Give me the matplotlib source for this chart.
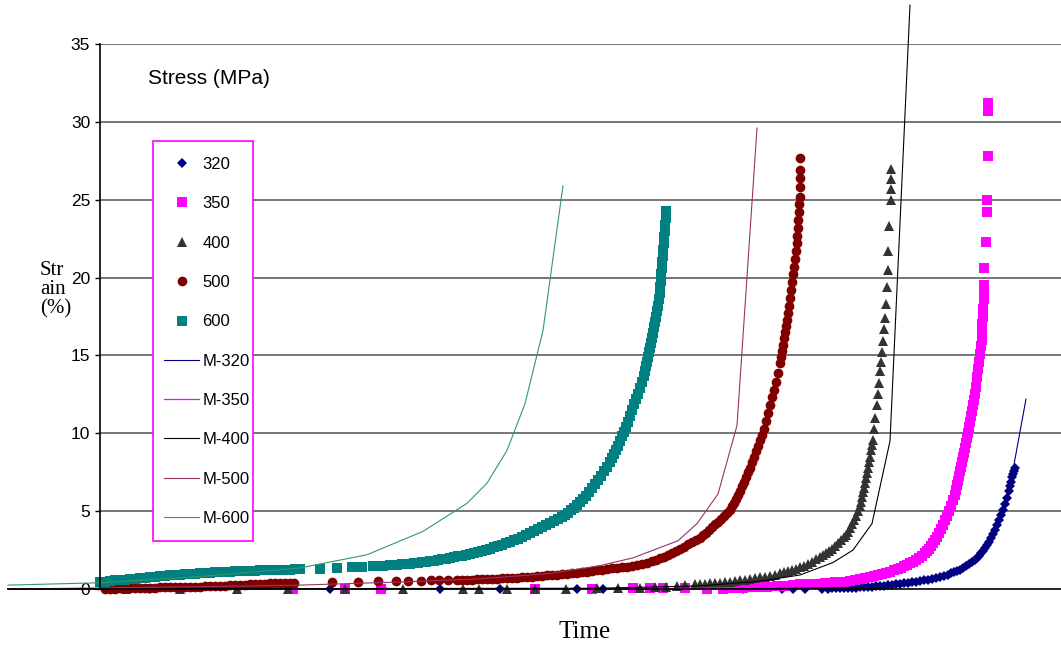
import matplotlib
matplotlib.use("Agg")
import matplotlib.pyplot as plt
from matplotlib.patches import Rectangle

# --- dados (tempo em unidades arbitrárias, deformação em %) ---
t_320 = [49, 230, 283, 340, 400, 477, 503, 643, 682, 693, 705, 722,
         728, 732, 736, 740, 744, 748, 752, 756, 760, 764, 768, 772, 776, 780,
         784, 788, 792, 796, 800, 804, 808, 812, 816, 820, 824, 828, 832, 836,
         840, 844, 848, 851, 854, 857, 860, 863, 866, 869, 872, 875, 877, 879,
         881, 883, 885, 887, 889, 891, 893, 895, 897, 899, 901, 903, 905, 907,
         909, 910, 911, 912, 913, 914, 915]
e_320 = [0, 0, 0, 0, 0, 0, 0, 0, 0, 0, 0, 0,
         0.03, 0.04, 0.05, 0.05, 0.06, 0.07, 0.08, 0.09, 0.1, 0.11, 0.13, 0.15, 0.17, 0.19,
         0.22, 0.24, 0.27, 0.3, 0.33, 0.37, 0.4, 0.44, 0.48, 0.52, 0.56, 0.6, 0.65, 0.7,
         0.77, 0.85, 0.93, 1.0, 1.08, 1.15, 1.23, 1.33, 1.45, 1.58, 1.72, 1.88, 2.0, 2.15,
         2.3, 2.45, 2.65, 2.85, 3.05, 3.3, 3.55, 3.8, 4.1, 4.4, 4.75, 5.1, 5.45, 5.85,
         6.3, 6.6, 6.9, 7.2, 7.4, 7.6, 7.8]

t_350 = [193, 245, 281, 435, 492, 533, 550, 563, 585, 607, 623, 633, 643,
         652, 660, 667, 677, 685, 693, 700,
         705, 710, 715, 720, 725, 730, 735, 740, 745, 750, 755, 760, 765, 770,
         774, 778, 782, 786, 790, 794, 798, 801, 804, 807, 810, 813, 816, 819,
         822, 825, 827, 829, 831, 833, 835, 837, 839, 841, 843, 845, 847, 849,
         851, 853, 855, 856, 857, 858, 859, 860, 861, 862, 863, 864, 865, 866,
         867, 868, 869, 870, 871, 872, 873, 874, 875, 876, 877, 878, 879, 880,
         881, 882, 882, 882, 883, 883, 884, 884, 884, 884, 886, 887, 887, 888,
         888, 888]
e_350 = [0, 0, 0, 0, 0, 0.05, 0.05, 0.05, 0.05, 0, 0, 0.05, 0.05,
         0.1, 0.1, 0.15, 0.2, 0.22, 0.25, 0.3,
         0.31, 0.32, 0.34, 0.35, 0.37, 0.4, 0.42, 0.45, 0.48, 0.52, 0.56, 0.62, 0.68, 0.75,
         0.82, 0.88, 0.95, 1.02, 1.1, 1.2, 1.3, 1.38, 1.47, 1.56, 1.66, 1.76, 1.88, 2.0,
         2.15, 2.3, 2.45, 2.6, 2.75, 2.95, 3.15, 3.35, 3.6, 3.85, 4.1, 4.4, 4.7, 5.0,
         5.35, 5.7, 6.05, 6.35, 6.65, 6.95, 7.25, 7.55, 7.85, 8.15, 8.45, 8.75, 9.05, 9.35,
         9.7, 10.05, 10.4, 10.75, 11.1, 11.45, 11.8, 12.15, 12.5, 13.0, 13.6, 14.1, 14.6, 15.1,
         15.6, 16.0, 16.5, 17.0, 17.5, 18.0, 18.6, 19.1, 19.5, 20.6, 22.3, 24.2, 25.0, 27.8,
         30.7, 31.2]

t_400 = [26, 80, 137, 188, 245, 303, 363, 379, 407, 435, 466, 497, 518,
         540, 555, 566, 577, 585, 595,
         600, 605, 610, 615, 620, 625, 630, 635, 640, 645, 650, 655, 660, 665,
         670, 675, 680, 684, 688, 692, 696, 700, 704, 708, 712, 716, 720, 723,
         726, 729, 732, 735, 738, 741, 744, 746, 748, 750, 752, 754, 756, 758,
         760, 761, 762, 763, 764, 765, 766, 767, 768, 769, 770, 771, 772, 773,
         774, 775, 777, 778, 779, 780, 781, 782, 783, 784, 785, 786, 787, 788,
         788, 789, 791, 791, 791, 791]
e_400 = [0, 0, 0, 0, 0, 0, 0, 0, 0, 0, 0, 0.05, 0.05,
         0.08, 0.1, 0.15, 0.2, 0.25, 0.3,
         0.32, 0.34, 0.36, 0.39, 0.41, 0.44, 0.47, 0.51, 0.55, 0.6, 0.65, 0.7, 0.75, 0.8,
         0.86, 0.93, 1.0, 1.07, 1.14, 1.22, 1.31, 1.4, 1.5, 1.62, 1.75, 1.9, 2.04, 2.16,
         2.3, 2.45, 2.6, 2.75, 2.93, 3.12, 3.33, 3.5, 3.68, 3.9, 4.15, 4.4, 4.7, 5.0,
         5.3, 5.6, 5.9, 6.2, 6.5, 6.8, 7.1, 7.45, 7.8, 8.15, 8.5, 8.9, 9.25, 9.6,
         10.3, 11.0, 11.8, 12.5, 13.2, 14.0, 14.6, 15.2, 15.9, 16.7, 17.4, 18.3, 19.4, 20.5,
         21.7, 23.3, 25.0, 25.7, 26.3, 27.0]

t_500 = [5, 10, 15, 20, 25, 30, 35, 40, 45, 50, 55, 60, 65, 70, 75, 80, 85,
         90, 95, 100, 105, 110, 115, 120, 125, 130, 135, 140, 145, 150, 155,
         160, 165, 170, 175, 180, 185, 190, 194,
         232, 258, 278, 296, 308, 321, 331, 339, 348, 357,
         362, 367, 372, 377, 382, 387, 392, 397, 402, 407, 412, 417, 422, 427,
         432, 437, 442, 447, 452, 457, 462, 467, 472, 477, 482, 487, 492, 497,
         502, 507, 512, 517, 522, 527, 532, 537, 542, 547, 552, 556, 560, 564,
         568, 572, 576, 580, 584, 588, 592, 596, 600, 603, 606, 609, 612, 615,
         618, 621, 624, 627, 630, 632, 634, 636, 638, 640, 642, 644, 646, 648,
         650, 652, 654, 656, 658, 660, 662, 664, 666, 668, 670, 672, 674, 676,
         678, 680, 681, 682, 683, 684, 685, 686, 687, 688, 689, 690, 691, 692,
         693, 694, 695, 696, 697, 697, 698, 698, 699, 699, 699.5, 700, 700, 700, 700]
e_500 = [0.0, 0.02, 0.03, 0.04, 0.05, 0.06, 0.06, 0.07, 0.08, 0.08, 0.09, 0.1, 0.1, 0.11, 0.12, 0.12, 0.13,
         0.14, 0.15, 0.16, 0.17, 0.18, 0.2, 0.21, 0.22, 0.24, 0.25, 0.27, 0.28, 0.3, 0.31,
         0.33, 0.34, 0.36, 0.37, 0.38, 0.39, 0.4, 0.4,
         0.45, 0.45, 0.5, 0.5, 0.52, 0.53, 0.55, 0.55, 0.57, 0.58,
         0.6, 0.6, 0.61, 0.62, 0.63, 0.64, 0.65, 0.66, 0.68, 0.7, 0.71, 0.73, 0.75, 0.77,
         0.79, 0.81, 0.84, 0.87, 0.9, 0.93, 0.96, 0.99, 1.02, 1.05, 1.08, 1.12, 1.16, 1.2,
         1.24, 1.28, 1.32, 1.36, 1.4, 1.44, 1.49, 1.54, 1.6, 1.68, 1.77, 1.86, 1.96, 2.07,
         2.18, 2.3, 2.42, 2.55, 2.7, 2.87, 3.0, 3.15, 3.3, 3.45, 3.6, 3.8, 4.0, 4.15,
         4.3, 4.5, 4.7, 4.85, 5.05, 5.3, 5.55, 5.8, 6.05, 6.3, 6.6, 6.9, 7.2, 7.5,
         7.8, 8.15, 8.5, 8.85, 9.2, 9.55, 9.9, 10.3, 10.8, 11.3, 11.8, 12.3, 12.8, 13.3,
         13.9, 14.5, 14.9, 15.3, 15.7, 16.1, 16.5, 16.9, 17.3, 17.7, 18.2, 18.7, 19.2, 19.7,
         20.2, 20.7, 21.2, 21.7, 22.2, 22.7, 23.2, 23.7, 24.2, 24.7, 25.2, 25.8, 26.4, 26.9, 27.7]

t_600 = [0, 5, 10, 15, 20, 25, 30, 35, 40, 45, 50, 55, 60, 65, 70, 75, 80,
         85, 90, 95, 100, 105, 110, 115, 120, 125, 130, 135, 140, 145, 150,
         155, 160, 165, 170, 175, 180, 185, 190, 195, 200,
         220, 237, 252, 262, 273, 283, 290, 297,
         302, 306, 310, 314, 318, 322, 326, 330, 334, 338, 342, 346, 350, 354,
         358, 362, 366, 370, 374, 378, 382, 386, 390, 394, 398, 402, 406, 410,
         414, 418, 422, 426, 430, 434, 438, 442, 446, 450, 454, 458, 462, 465,
         468, 471, 474, 477, 480, 483, 486, 489, 492, 495, 498, 501, 504, 507,
         510, 512, 514, 516, 518, 520, 522, 524, 526, 528, 530, 532, 534, 536,
         538, 540, 542, 544, 545, 546, 547, 548, 549, 550, 551, 552, 553, 554,
         555, 556, 557, 558, 559, 559.5, 560, 560.5, 561, 561.5, 562, 562.5, 563,
         563.5, 564, 564.5, 565, 565.5, 566]
e_600 = [0.45, 0.48, 0.51, 0.55, 0.58, 0.61, 0.64, 0.67, 0.7, 0.73, 0.76, 0.79, 0.82, 0.84, 0.87, 0.9, 0.92,
         0.94, 0.96, 0.98, 1.0, 1.02, 1.04, 1.06, 1.08, 1.1, 1.11, 1.13, 1.14, 1.16, 1.17,
         1.18, 1.19, 1.2, 1.21, 1.22, 1.23, 1.24, 1.25, 1.26, 1.27,
         1.3, 1.35, 1.4, 1.42, 1.48, 1.5, 1.52, 1.55,
         1.58, 1.6, 1.63, 1.66, 1.7, 1.73, 1.76, 1.8, 1.83, 1.87, 1.91, 1.95, 2.0, 2.05,
         2.1, 2.15, 2.2, 2.26, 2.32, 2.38, 2.45, 2.52, 2.6, 2.67, 2.75, 2.84, 2.93, 3.02,
         3.12, 3.24, 3.36, 3.48, 3.6, 3.73, 3.86, 4.0, 4.12, 4.25, 4.37, 4.5, 4.6, 4.75,
         4.9, 5.05, 5.2, 5.4, 5.6, 5.8, 6.0, 6.25, 6.5, 6.75, 7.0, 7.25, 7.55, 7.85,
         8.15, 8.4, 8.65, 8.9, 9.2, 9.5, 9.8, 10.1, 10.4, 10.75, 11.1, 11.5, 11.85, 12.2,
         12.55, 12.9, 13.3, 13.7, 14.0, 14.3, 14.6, 14.9, 15.2, 15.5, 15.8, 16.1, 16.45, 16.8,
         17.15, 17.5, 17.85, 18.2, 18.6, 19.0, 19.4, 19.8, 20.2, 20.6, 21.0, 21.4, 21.8,
         22.2, 22.6, 23.0, 23.4, 23.8, 24.3]

# curvas do modelo
tm_320 = [-92, 600, 700, 760, 800, 830, 850, 865, 875, 885, 893, 900, 907, 912, 926]
em_320 = [0.0, 0.0, 0.05, 0.12, 0.32, 0.6, 0.95, 1.4, 1.9, 2.7, 3.6, 4.6, 6.0, 7.3, 12.2]
tm_350 = [-92, 550, 650, 700, 750, 780, 800, 820, 835, 845, 855, 863, 870, 876, 881, 886]
em_350 = [0.0, 0.0, 0.1, 0.3, 0.6, 1.0, 1.4, 2.1, 3.2, 4.3, 6.0, 8.0, 10.5, 13.5, 16.5, 19.8]
tm_400 = [-92, 500, 600, 660, 700, 733, 753, 772, 790, 810]
em_400 = [0.0, 0.05, 0.2, 0.5, 0.9, 1.7, 2.5, 4.2, 9.5, 37.5]
tm_500 = [-92, -50, 100, 200, 300, 380, 450, 500, 533, 578, 597, 618, 637, 657]
em_500 = [0.02, 0.03, 0.15, 0.25, 0.45, 0.65, 1.0, 1.5, 2.0, 3.1, 4.2, 6.1, 10.5, 29.6]
tm_600 = [-92, 0, 100, 200, 267, 323, 367, 387, 407, 425, 443, 463]
em_600 = [0.25, 0.4, 0.8, 1.35, 2.2, 3.7, 5.5, 6.8, 8.9, 11.9, 16.6, 25.9]

yticks = [0, 5, 10, 15, 20, 25, 30, 35]


def gerar_grafico():
    fig = plt.figure(figsize=(10.61, 6.48), dpi=100)
    ax = fig.add_axes([8 / 1061, 59 / 648, 1053 / 1061, 545 / 648])
    ax.set_xlim(-92, 961)
    ax.set_ylim(0, 35)

    # grade horizontal só à direita do eixo y
    ax.hlines(yticks[1:], 0, 961, colors="#5f5f5f", linewidth=1.2, zorder=0)

    # pontos experimentais
    kw = dict(linestyle="none", markeredgewidth=0, clip_on=False)
    ax.plot(t_320, e_320, marker="D", markersize=5.5, color="#000080", label="320", **kw)
    ax.plot(t_350, e_350, marker="s", markersize=6.5, color="#FF00FF", label="350", **kw)
    ax.plot(t_400, e_400, marker="^", markersize=6.5, color="#333333", label="400", **kw)
    ax.plot(t_500, e_500, marker="o", markersize=7, color="#800000", label="500", **kw)
    ax.plot(t_600, e_600, marker="s", markersize=7.5, color="#008080", label="600", **kw)

    # modelo
    ax.plot(tm_320, em_320, color="#000080", lw=0.8, label="M-320", clip_on=False)
    ax.plot(tm_350, em_350, color="#FF00FF", lw=0.9, label="M-350", clip_on=False)
    ax.plot(tm_400, em_400, color="black", lw=0.8, label="M-400", clip_on=False)
    ax.plot(tm_500, em_500, color="#993366", lw=0.8, label="M-500", clip_on=False)
    ax.plot(tm_600, em_600, color="#339966", lw=0.8, label="M-600", clip_on=False)

    # eixos estilo Excel
    for s in ["top", "right"]:
        ax.spines[s].set_visible(False)
    ax.spines["left"].set_position(("data", 0))
    ax.spines["left"].set_linewidth(1.2)
    ax.spines["bottom"].set_linewidth(1.2)
    ax.set_xticks([])
    ax.set_yticks(yticks)
    ax.tick_params(axis="y", direction="out", length=3.6, width=1, pad=3.5,
                   labelsize=12.5)
    for lab in ax.get_yticklabels():
        lab.set_fontfamily("Liberation Sans")

    # caixa da legenda (borda magenta) desenhada à parte
    caixa = Rectangle((145 / 1053, 48 / 545), 100 / 1053, 400 / 545,
                      transform=ax.transAxes, facecolor="white",
                      edgecolor="#FF00FF", linewidth=1.2, zorder=4)
    ax.add_patch(caixa)
    leg = ax.legend(loc="upper left", bbox_to_anchor=(156 / 1053, 432 / 545),
                    borderaxespad=0, frameon=False, borderpad=0,
                    prop={"family": "Liberation Sans", "size": 12},
                    labelspacing=1.46, handlelength=2.1, handletextpad=0.2)
    leg.set_zorder(5)

    ax.text(0.133, 0.9376, "Stress (MPa)", transform=ax.transAxes,
            fontsize=15, family="Liberation Sans", va="center", ha="left")

    fig.text(40 / 1061, 1 - 290 / 648, "Str\nain\n(%)", fontsize=15,
             family="Liberation Serif", ha="left", va="center",
             multialignment="left", linespacing=1.0)
    fig.text(585 / 1061, 1 - 632 / 648, "Time", fontsize=18,
             family="Liberation Serif", ha="center", va="center")

    fig.savefig("out.png", dpi=100)


if __name__ == "__main__":
    gerar_grafico()
